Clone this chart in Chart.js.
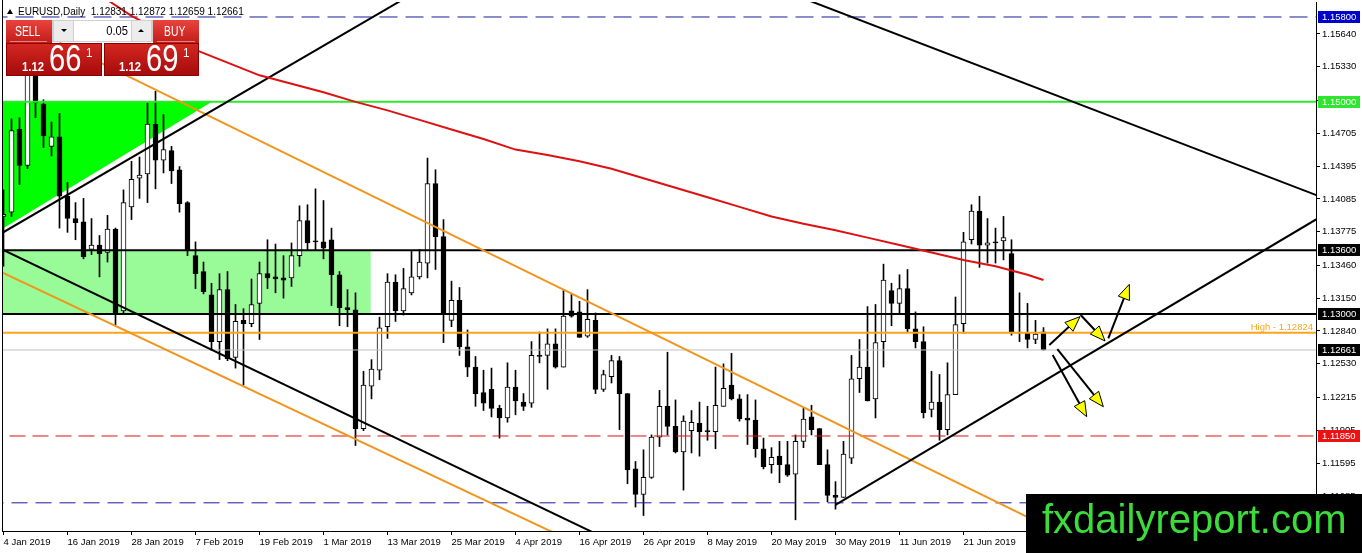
<!DOCTYPE html>
<html>
<head>
<meta charset="utf-8">
<script src="https://cdn.jsdelivr.net/npm/chart.js@4.4.0/dist/chart.umd.min.js"></script>
<style>
html, body { margin: 0; padding: 0; background: #fff; }
#wrap { width: 1362px; height: 553px; position: relative; }
</style>
</head>
<body>
<div id="wrap"><canvas id="chart"></canvas></div>
<script>
// EURUSD daily candles, bar index 0 = 4 Jan 2019
const opens = [
  1.1392,1.1396,1.1474,1.1440,1.1542,1.1498,1.1458,1.1467,1.1411,1.1390,
  1.1387,1.1361,1.1365,1.1358,1.1380,1.1303,1.1401,1.1428,1.1432,1.1479,
  1.1445,1.1454,1.1436,1.1405,1.1355,1.1340,1.1318,1.1274,1.1323,1.1259,
  1.1294,1.1291,1.1310,1.1338,1.1335,1.1334,1.1334,1.1355,1.1388,1.1369,
  1.1368,1.1370,1.1337,1.1306,1.1304,1.1192,1.1232,1.1247,1.1288,1.1330,
  1.1303,1.1320,1.1335,1.1348,1.1423,1.1373,1.1294,1.1313,1.1269,1.1250,
  1.1226,1.1229,1.1211,1.1202,1.1231,1.1217,1.1216,1.1261,1.1261,1.1272,
  1.1250,1.1303,1.1302,1.1279,1.1294,1.1229,1.1241,1.1256,1.1225,1.1154,
  1.1130,1.1146,1.1184,1.1213,1.1194,1.1170,1.1190,1.1197,1.1190,1.1189,
  1.1213,1.1233,1.1220,1.1202,1.1200,1.1173,1.1158,1.1166,1.1158,1.1149,
  1.1180,1.1203,1.1192,1.1158,1.1129,1.1127,1.1164,1.1239,1.1250,1.1220,
  1.1274,1.1322,1.1310,1.1324,1.1286,1.1274,1.1210,1.1217,1.1191,1.1224,
  1.1291,1.1370,1.1397,1.1365,1.1368,1.1369,1.1357,1.1283,1.1282,1.1276,
  1.12831
];
const highs = [
  1.1417,1.1484,1.1485,1.1570,1.1570,1.1502,1.1481,1.1489,1.1424,1.1405,
  1.1409,1.1390,1.1374,1.1393,1.1381,1.1417,1.1444,1.1448,1.1499,1.1510,
  1.1488,1.1458,1.1439,1.1406,1.1368,1.1349,1.1329,1.1338,1.1340,1.1309,
  1.1305,1.1333,1.1349,1.1370,1.1366,1.1355,1.1367,1.1402,1.1403,1.1418,
  1.1407,1.1381,1.1340,1.1323,1.1320,1.1246,1.1257,1.1297,1.1338,1.1337,
  1.1343,1.1359,1.1361,1.1447,1.1436,1.1389,1.1331,1.1325,1.1285,1.1260,
  1.1247,1.1249,1.1214,1.1254,1.1247,1.1225,1.1274,1.1283,1.1286,1.1286,
  1.1323,1.1319,1.1312,1.1323,1.1301,1.1247,1.1261,1.1260,1.1225,1.1161,
  1.1172,1.1186,1.1228,1.1264,1.1219,1.1204,1.1209,1.1217,1.1213,1.1250,
  1.1253,1.1263,1.1224,1.1224,1.1219,1.1183,1.1174,1.1180,1.1180,1.1186,
  1.1211,1.1214,1.1192,1.1172,1.1142,1.1180,1.1261,1.1276,1.1307,1.1309,
  1.1347,1.1329,1.1337,1.1342,1.1302,1.1288,1.1246,1.1243,1.1254,1.1316,
  1.1377,1.1403,1.1411,1.1390,1.1381,1.1392,1.1370,1.1320,1.1310,1.1294,
  1.12872
];
const lows = [
  1.1345,1.1392,1.1422,1.1437,1.1485,1.1457,1.1449,1.1381,1.1377,1.1370,
  1.1352,1.1356,1.1335,1.1349,1.1290,1.1301,1.1389,1.1409,1.1405,1.1418,
  1.1433,1.1423,1.1396,1.1355,1.1324,1.1319,1.1266,1.1257,1.1256,1.1249,
  1.1233,1.1288,1.1276,1.1324,1.1320,1.1315,1.1326,1.1345,1.1360,1.1360,
  1.1352,1.1308,1.1289,1.1288,1.1176,1.1190,1.1220,1.1238,1.1277,1.1293,
  1.1299,1.1318,1.1333,1.1334,1.1342,1.1273,1.1288,1.1261,1.1241,1.1213,
  1.1209,1.1203,1.1183,1.1198,1.1205,1.1209,1.1212,1.1254,1.1229,1.1249,
  1.1250,1.1297,1.1278,1.1278,1.1225,1.1227,1.1235,1.1191,1.1140,1.1118,
  1.1110,1.1145,1.1175,1.1186,1.1169,1.1134,1.1169,1.1166,1.1181,1.1173,
  1.1213,1.1219,1.1199,1.1177,1.1165,1.1154,1.1150,1.1141,1.1147,1.1106,
  1.1174,1.1186,1.1158,1.1123,1.1116,1.1127,1.1159,1.1226,1.1218,1.1202,
  1.1250,1.1289,1.1301,1.1283,1.1268,1.1202,1.1203,1.1181,1.1186,1.1224,
  1.1282,1.1366,1.1344,1.1348,1.1348,1.1351,1.1280,1.1274,1.1268,1.1272,
  1.12659
];
const closes = [
  1.1394,1.1473,1.1440,1.1540,1.1499,1.1468,1.1467,1.1411,1.1390,1.1386,
  1.1354,1.1365,1.1357,1.1380,1.1301,1.1405,1.1427,1.1431,1.1479,1.1445,
  1.1455,1.1435,1.1404,1.1360,1.1338,1.1321,1.1274,1.1323,1.1258,1.1293,
  1.1291,1.1309,1.1338,1.1334,1.1333,1.1332,1.1355,1.1388,1.1367,1.1368,
  1.1362,1.1337,1.1306,1.1304,1.1192,1.1233,1.1248,1.1287,1.1330,1.1303,
  1.1324,1.1335,1.1349,1.1423,1.1373,1.1301,1.1313,1.1269,1.1250,1.1225,
  1.1216,1.1211,1.1202,1.1231,1.1218,1.1213,1.1261,1.1260,1.1272,1.1250,
  1.1298,1.1298,1.1278,1.1295,1.1229,1.1243,1.1256,1.1225,1.1153,1.1130,
  1.1146,1.1184,1.1213,1.1194,1.1170,1.1199,1.1198,1.1189,1.1189,1.1214,
  1.1230,1.1220,1.1201,1.1200,1.1173,1.1156,1.1165,1.1158,1.1148,1.1180,
  1.1201,1.1191,1.1158,1.1129,1.1127,1.1168,1.1239,1.1250,1.1218,1.1273,
  1.1332,1.1310,1.1324,1.1286,1.1274,1.1207,1.1217,1.1191,1.1224,1.1290,
  1.1368,1.1397,1.1365,1.1367,1.1367,1.1372,1.1283,1.1282,1.1276,1.1281,
  1.12661
];

// moving average (red), read at these bar indices
const maIdx = [12,16,20,24,28,32,36,40,44,48,52,56,60,64,68,72,76,80,84,88,92,96,100,104,108,112,116,120,124,128,130];
const maVal = [1.1601,1.1581,1.1565,1.1549,1.1537,1.1525,1.1517,1.1509,1.1500,1.1492,1.1483,1.1474,1.1465,1.1455,1.1450,1.1444,
               1.1437,1.1428,1.1419,1.1410,1.1401,1.1392,1.1385,1.1379,1.1372,1.1365,1.1358,1.1351,1.1345,1.1337,1.1332];

const xTickLabels = ['4 Jan 2019','16 Jan 2019','28 Jan 2019','7 Feb 2019','19 Feb 2019','1 Mar 2019','13 Mar 2019','25 Mar 2019',
  '4 Apr 2019','16 Apr 2019','26 Apr 2019','8 May 2019','20 May 2019','30 May 2019','11 Jun 2019','21 Jun 2019','3 Jul 2019'];
const yTicks = [1.15640,1.15330,1.15015,1.14705,1.14395,1.14085,1.13775,1.13460,1.13150,1.12840,1.12530,1.12215,1.11905,1.11595,1.11285];

// horizontal price levels
const levelBlueTop = 1.15800;
const levelGreen = 1.15000;
const levelBlack = [1.13600, 1.13000];
const levelHigh = 1.12824;
const levelBid = 1.12661;
const levelRed = 1.11850;
const levelBlueLow = 1.11220;
const axisMarks = [1.15800, 1.15000, 1.13600, 1.13000, 1.12661, 1.11850];

// trend lines as [startIndex, startPrice, endIndex, endPrice]
const blackTrends = [
  [-0.5, 1.1375, 55, 1.16188],
  [100, 1.15975, 166, 1.14066],
  [-0.5, 1.1362, 75, 1.10894],
  [104, 1.1120, 166, 1.13978]
];
const orangeTrends = [
  [7, 1.15558, 132, 1.10938],
  [-0.5, 1.13403, 70, 1.10895]
];

// zones
const triIdx = [-0.2, 26.06, -0.2];
const triPrice = [1.1500, 1.1500, 1.13801];
const rectIdx = [-0.5, 45.9];
const rectPrice = [1.1300, 1.1360];

// scenario arrows [fromIndex, fromPrice, toIndex, toPrice]
const arrows = [
  [130.73, 1.12708, 134.56, 1.12975],
  [134.65, 1.12991, 137.69, 1.12746],
  [138.10, 1.12771, 140.73, 1.13280],
  [131.15, 1.12614, 135.40, 1.12032],
  [131.73, 1.12670, 137.48, 1.12126]
];

Chart.defaults.font.family = 'Liberation Sans';
Chart.defaults.color = '#000';

const bars = opens.map((o, i) => i);
const wickData = bars.map(i => ({x: i, y: [lows[i], highs[i]]}));
const bodyData = bars.map(i => ({x: i, y: [opens[i], closes[i]]}));
const bodyFill = bars.map(i => closes[i] >= opens[i] ? '#ffffff' : '#000000');

function seg(pts, color, width, dash, order) {
  return {
    type: 'line',
    data: pts.map(p => ({x: p[0], y: p[1]})),
    borderColor: color,
    borderWidth: width,
    borderDash: dash || [],
    pointRadius: 0,
    tension: 0,
    fill: false,
    order: order
  };
}
const hline = (p, color, width, dash, order) => seg([[-5, p], [170, p]], color, width, dash, order);

const datasets = [
  seg(maIdx.map((x, i) => [x, maVal[i]]), '#dd1111', 2, null, 1),
  ...blackTrends.map(t => seg([[t[0], t[1]], [t[2], t[3]]], '#000000', 2, null, 2)),
  ...orangeTrends.map(t => seg([[t[0], t[1]], [t[2], t[3]]], '#f0961e', 2, null, 2)),
  hline(levelBlueTop, '#1a1aa0', 1, [18, 8], 3),
  hline(levelGreen, '#2ee62e', 2, null, 3),
  hline(levelBlack[0], '#000000', 2, null, 3),
  hline(levelBlack[1], '#000000', 2, null, 3),
  hline(levelHigh, '#ffa31a', 2, null, 3),
  hline(levelBid, '#c0c0c0', 1, null, 4),
  hline(levelRed, '#dd1111', 1, [16, 7], 3),
  hline(levelBlueLow, '#1a1aa0', 1, [16, 8], 3),
  {
    type: 'bar',
    data: bodyData,
    backgroundColor: bodyFill,
    borderColor: '#000000',
    borderWidth: 1,
    borderSkipped: false,
    barThickness: 5,
    minBarLength: 1,
    grouped: false,
    order: 10
  },
  {
    type: 'bar',
    data: wickData,
    backgroundColor: '#000000',
    borderWidth: 0,
    barThickness: 1,
    grouped: false,
    order: 11
  }
];

function drawArrow(ctx, x0, y0, x1, y1) {
  const a = Math.atan2(y1 - y0, x1 - x0);
  const len = 15, hw = 6;
  ctx.strokeStyle = '#000';
  ctx.lineWidth = 2;
  ctx.beginPath();
  ctx.moveTo(x0, y0);
  ctx.lineTo(x1 - Math.cos(a) * len, y1 - Math.sin(a) * len);
  ctx.stroke();
  const bx = x1 - Math.cos(a) * len, by = y1 - Math.sin(a) * len;
  ctx.beginPath();
  ctx.moveTo(x1, y1);
  ctx.lineTo(bx + Math.sin(a) * hw, by - Math.cos(a) * hw);
  ctx.lineTo(bx - Math.sin(a) * hw, by + Math.cos(a) * hw);
  ctx.closePath();
  ctx.fillStyle = '#ffff00';
  ctx.fill();
  ctx.lineWidth = 1;
  ctx.stroke();
}

function squeezeText(ctx, text, x, y, font, sx, color) {
  ctx.save();
  ctx.font = font;
  ctx.fillStyle = color;
  ctx.translate(x, y);
  ctx.scale(sx, 1);
  ctx.fillText(text, 0, 0);
  ctx.restore();
}

function drawWidget(ctx) {
  ctx.save();
  const grad = (y0, y1, c0, c1) => {
    const g = ctx.createLinearGradient(0, y0, 0, y1);
    g.addColorStop(0, c0);
    g.addColorStop(1, c1);
    return g;
  };
  ctx.fillStyle = grad(20, 43, '#e8443e', '#c41c18');
  ctx.fillRect(6, 20, 46, 23);
  ctx.fillRect(153, 20, 46, 23);
  ctx.fillStyle = '#cfcfcf';
  ctx.fillRect(52, 20, 101, 22);
  ctx.fillStyle = '#ececec';
  ctx.fillRect(54, 21, 19, 20);
  ctx.fillRect(132, 21, 19, 20);
  ctx.fillStyle = '#ffffff';
  ctx.fillRect(74, 21, 57, 20);
  ctx.fillStyle = '#000';
  ctx.beginPath(); ctx.moveTo(61, 29); ctx.lineTo(67, 29); ctx.lineTo(64, 32); ctx.closePath(); ctx.fill();
  ctx.beginPath(); ctx.moveTo(138, 32); ctx.lineTo(144, 32); ctx.lineTo(141, 29); ctx.closePath(); ctx.fill();
  ctx.strokeStyle = 'rgba(255,255,255,0.45)';
  ctx.lineWidth = 1;
  ctx.beginPath(); ctx.moveTo(10, 41.5); ctx.lineTo(47, 41.5); ctx.moveTo(157, 41.5); ctx.lineTo(195, 41.5); ctx.stroke();

  ctx.fillStyle = grad(43, 76, '#d42822', '#a40a0a');
  ctx.fillRect(6, 43, 96, 33);
  ctx.fillRect(104, 43, 95, 33);
  ctx.strokeStyle = '#8a0000';
  ctx.strokeRect(6.5, 43.5, 95, 32);
  ctx.strokeRect(104.5, 43.5, 94, 32);

  ctx.textBaseline = 'alphabetic';
  squeezeText(ctx, 'SELL', 15, 36, '14px Liberation Sans', 0.74, '#fff');
  squeezeText(ctx, 'BUY', 164, 36, '14px Liberation Sans', 0.74, '#fff');
  ctx.textAlign = 'right';
  squeezeText(ctx, '0.05', 128, 35, '13px Liberation Sans', 0.86, '#000');
  ctx.textAlign = 'left';
  squeezeText(ctx, '1.12', 22, 71, 'bold 12.5px Liberation Sans', 0.9, '#fff');
  squeezeText(ctx, '66', 49, 71, '36px Liberation Sans', 0.81, '#fff');
  squeezeText(ctx, '1', 86, 57, '13px Liberation Sans', 0.9, '#fff');
  squeezeText(ctx, '1.12', 119, 71, 'bold 12.5px Liberation Sans', 0.9, '#fff');
  squeezeText(ctx, '69', 146, 71, '36px Liberation Sans', 0.81, '#fff');
  squeezeText(ctx, '1', 183, 57, '13px Liberation Sans', 0.9, '#fff');
  ctx.restore();
}

const mt4Overlay = {
  id: 'mt4Overlay',
  beforeDatasetsDraw(chart) {
    const {ctx, scales: {x, y}, chartArea} = chart;
    ctx.save();
    ctx.beginPath();
    ctx.rect(chartArea.left, chartArea.top, chartArea.right - chartArea.left, chartArea.bottom - chartArea.top);
    ctx.clip();
    ctx.fillStyle = '#98fb98';
    const rx0 = x.getPixelForValue(rectIdx[0]), rx1 = x.getPixelForValue(rectIdx[1]);
    const ry0 = y.getPixelForValue(rectPrice[1]), ry1 = y.getPixelForValue(rectPrice[0]);
    ctx.fillRect(rx0, ry0, rx1 - rx0, ry1 - ry0);
    ctx.fillStyle = '#00ff00';
    ctx.beginPath();
    triIdx.forEach((v, i) => {
      const px = x.getPixelForValue(v), py = y.getPixelForValue(triPrice[i]);
      if (i === 0) ctx.moveTo(px, py); else ctx.lineTo(px, py);
    });
    ctx.closePath();
    ctx.fill();
    ctx.restore();
  },
  afterDatasetsDraw(chart) {
    const {ctx, scales: {x, y}, chartArea} = chart;
    ctx.save();
    arrows.forEach(a => drawArrow(ctx, x.getPixelForValue(a[0]), y.getPixelForValue(a[1]),
                                        x.getPixelForValue(a[2]), y.getPixelForValue(a[3])));
    // label of the high line
    ctx.font = '9.5px Liberation Sans';
    ctx.fillStyle = '#f5a623';
    ctx.textAlign = 'right';
    ctx.textBaseline = 'alphabetic';
    ctx.fillText('High - ' + levelHigh.toFixed(5), chartArea.right - 3, y.getPixelForValue(levelHigh) - 3);
    // left frame
    ctx.strokeStyle = '#000';
    ctx.lineWidth = 1;
    ctx.beginPath();
    ctx.moveTo(chartArea.left + 0.5, 0);
    ctx.lineTo(chartArea.left + 0.5, chartArea.bottom);
    ctx.stroke();
    ctx.restore();
  },
  afterDraw(chart) {
    const {ctx, scales: {y}} = chart;
    const boxColors = ['#0000cc', '#2ee62e', '#000000', '#000000', '#000000', '#ee1111'];
    ctx.save();
    ctx.font = '9.5px Liberation Sans';
    ctx.textBaseline = 'middle';
    ctx.textAlign = 'left';
    axisMarks.forEach((p, i) => {
      const py = Math.round(y.getPixelForValue(p));
      ctx.fillStyle = boxColors[i];
      ctx.fillRect(1318, py - 6, 42, 12);
      ctx.fillStyle = '#fff';
      ctx.fillText(p.toFixed(5), 1322, py + 0.5);
    });

    // header line
    ctx.fillStyle = '#000';
    ctx.beginPath(); ctx.moveTo(7, 14); ctx.lineTo(13, 14); ctx.lineTo(10, 9); ctx.closePath(); ctx.fill();
    ctx.font = '10px Liberation Sans';
    ctx.textBaseline = 'alphabetic';
    const last = opens.length - 1;
    ctx.fillText('EURUSD,Daily  ' + opens[last].toFixed(5) + ' ' + highs[last].toFixed(5) + ' ' +
                 lows[last].toFixed(5) + ' ' + closes[last].toFixed(5), 18, 15);

    drawWidget(ctx);

    // watermark
    ctx.fillStyle = '#000';
    ctx.fillRect(1026, 494, 336, 59);
    ctx.fillStyle = '#3ddc3d';
    ctx.font = '40px Liberation Sans';
    ctx.textBaseline = 'alphabetic';
    ctx.fillText('fxdailyreport.com', 1042, 533);
    ctx.restore();
  }
};

const chart = new Chart(document.getElementById('chart').getContext('2d'), {
  type: 'bar',
  data: { datasets: datasets },
  plugins: [mt4Overlay],
  options: {
    responsive: true,
    maintainAspectRatio: false,
    animation: false,
    events: [],
    layout: { padding: { left: 2, top: 2, right: 0, bottom: 0 } },
    plugins: {
      legend: { display: false },
      tooltip: { enabled: false },
      title: { display: false }
    },
    scales: {
      x: {
        type: 'linear',
        min: -0.1875,
        max: 164.0625,
        offset: false,
        afterFit: s => { s.height = 22; s.paddingLeft = 0; s.paddingRight = 0; },
        afterBuildTicks: s => { s.ticks = xTickLabels.map((_, i) => ({value: i * 8})); },
        ticks: {
          autoSkip: false,
          maxRotation: 0,
          minRotation: 0,
          align: 'start',
          padding: 2,
          font: { size: 9.5 },
          color: '#000',
          callback: (v, i) => xTickLabels[i]
        },
        grid: { drawOnChartArea: false, drawTicks: true, tickLength: 4, color: '#000', offset: false },
        border: { display: true, color: '#000', width: 1 }
      },
      y: {
        type: 'linear',
        position: 'right',
        min: 1.109544,
        max: 1.159414,
        afterFit: s => { s.width = 46; s.paddingTop = 0; s.paddingBottom = 0; },
        afterBuildTicks: s => { s.ticks = yTicks.map(v => ({value: v})); },
        ticks: {
          autoSkip: false,
          padding: 2,
          font: { size: 9.5 },
          color: '#000',
          callback: v => v.toFixed(5)
        },
        grid: { drawOnChartArea: false, drawTicks: true, tickLength: 4, color: '#000' },
        border: { display: true, color: '#000', width: 1 }
      }
    }
  }
});
</script>
</body>
</html>
